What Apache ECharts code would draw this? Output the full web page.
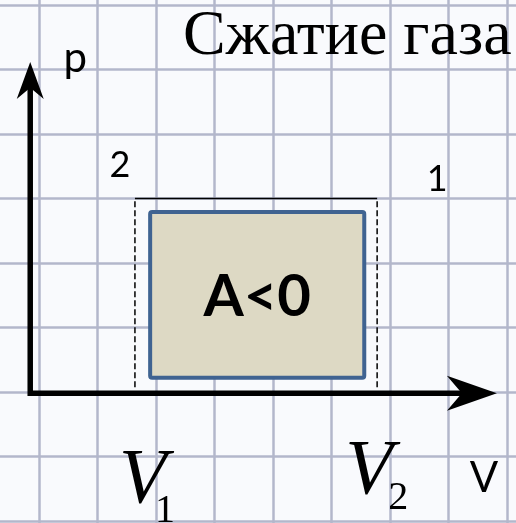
<!DOCTYPE html>
<html>
<head>
<meta charset="utf-8">
<script src="https://cdn.jsdelivr.net/npm/echarts@6/dist/echarts.min.js"></script>
<style>
  html, body { margin: 0; padding: 0; background: #f9fafd; }
  #chart { width: 516px; height: 523px; }
</style>
</head>
<body>
<div id="chart"></div>
<script>
// values in grid cells (1 unit = one square of the paper)
const volumes = [1.64, 5.78];        // V1, V2
const pressure = [3.0];              // isobar 1 -> 2
const workVolumes = [1.9, 5.56];     // shaded work area, left / right
const workPressures = [0.22, 2.79];  // shaded work area, bottom / top
const stateNames = ['2', '1'];       // state at V1, state at V2
const volumeSubs = ['1', '2'];
const axisOrigin = [-0.15, -0.02];
const axisEnds = [7.40, 4.83];       // V axis arrow, p axis arrow
const axisNames = ['V', 'p'];
const titleText = 'Сжатие газа';
const workText = 'A<0';

const arrowPath = 'path://M50,0 L100,100 L50,70 L0,100 Z';
const sans = 'Lato';
const serif = 'Liberation Serif';

const chart = echarts.init(document.getElementById('chart'));

function txt(pt, dx, dy, text, font) {
  return {
    type: 'text', x: pt[0] + dx, y: pt[1] + dy,
    style: { text: text, font: font, fill: '#000', align: 'center', verticalAlign: 'middle' }
  };
}

function renderDiagram(params, api) {
  const s2 = api.coord([volumes[0], pressure[0]]);
  const s1 = api.coord([volumes[1], pressure[0]]);
  const b2 = api.coord([volumes[0], axisOrigin[1]]);
  const b1 = api.coord([volumes[1], axisOrigin[1]]);
  const wTop = api.coord([workVolumes[0], workPressures[1]]);
  const wBot = api.coord([workVolumes[1], workPressures[0]]);
  const pArrow = api.coord([axisOrigin[0], axisEnds[1]]);
  const vArrow = api.coord([axisEnds[0], axisOrigin[1]]);

  const seg = (a, b, dash) => ({
    type: 'line',
    shape: { x1: a[0], y1: a[1] - 6, x2: b[0], y2: b[1] },
    style: { stroke: '#000', lineWidth: 1.5, lineDash: dash }
  });

  return {
    type: 'group',
    children: [
      seg(b2, s2, [6, 3]),
      seg(b1, s1, [6, 3]),
      { type: 'line', shape: { x1: s2[0], y1: s2[1], x2: s1[0], y2: s1[1] },
        style: { stroke: '#000', lineWidth: 1.5 } },
      { type: 'rect',
        shape: { x: wTop[0], y: wTop[1], width: wBot[0] - wTop[0], height: wBot[1] - wTop[1], r: 2 },
        style: { fill: '#ddd9c4', stroke: '#3f6391', lineWidth: 4 } },
      txt([(wTop[0] + wBot[0]) / 2, (wTop[1] + wBot[1]) / 2], 0, 2, workText, 'bold 58px ' + sans),
      txt(s2, -15, -33, stateNames[0], '36px ' + sans),
      txt(s1, 60, -19, stateNames[1], '36px ' + sans),
      txt(pArrow, 45, -22, axisNames[1], '42px ' + sans),
      txt(vArrow, 12, 85, axisNames[0], '42px ' + sans),
      txt(b2, 8, 88, 'V', 'italic 78px ' + serif),
      txt(b2, 30, 118, volumeSubs[0], '40px ' + serif),
      txt(b1, -8, 79, 'V', 'italic 78px ' + serif),
      txt(b1, 21, 105, volumeSubs[1], '40px ' + serif)
    ]
  };
}

const gridAxis = (min, max) => ({
  type: 'value', min: min, max: max, interval: 1,
  axisLine: { show: false }, axisTick: { show: false }, axisLabel: { show: false },
  splitLine: { show: true, lineStyle: { color: '#b3b7cb', width: 2.5 } }
});

chart.setOption({
  animation: false,
  backgroundColor: '#f9fafd',
  title: {
    text: titleText, left: 183, top: 5, padding: 0,
    textStyle: { fontFamily: serif, fontSize: 64, fontWeight: 'normal', color: '#000' }
  },
  grid: { left: -19.5, top: -59.5, width: 585, height: 645, outerBoundsMode: 'none' },
  xAxis: gridAxis(-1, 9),
  yAxis: gridAxis(-3, 7),
  series: [
    {
      type: 'custom', silent: true, z: 2,
      data: [[volumes[0], volumes[1], pressure[0]]],
      renderItem: renderDiagram
    },
    {
      type: 'line', silent: true, z: 3,
      lineStyle: { color: '#000', width: 5.5, join: 'miter' },
      itemStyle: { color: '#000' },
      data: [
        { value: [axisOrigin[0], axisEnds[1]], symbol: arrowPath, symbolSize: [27, 37] },
        { value: axisOrigin, symbol: 'none' },
        { value: [axisEnds[0], axisOrigin[1]], symbol: arrowPath, symbolSize: [35, 50], symbolRotate: -90 }
      ]
    }
  ]
});
</script>
</body>
</html>
